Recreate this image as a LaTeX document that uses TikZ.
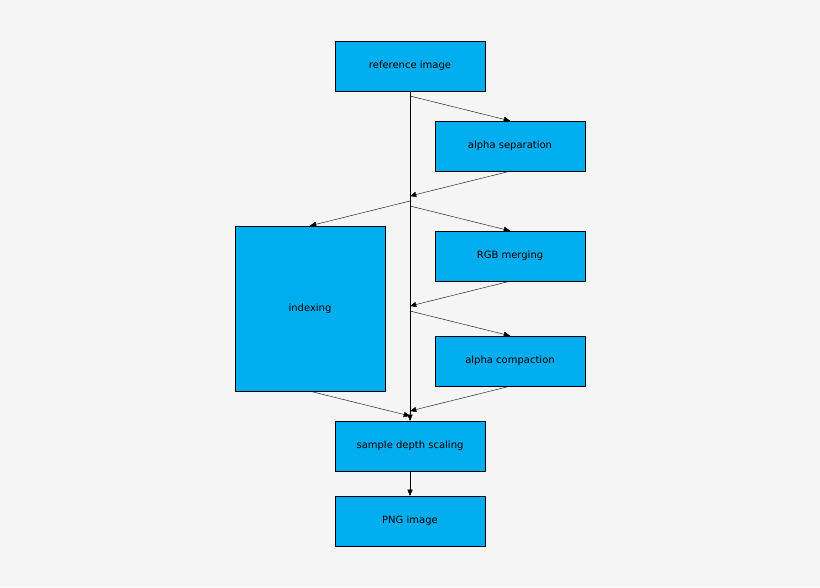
\documentclass[tikz,border=0pt]{standalone}
\usepackage{fontspec}
\setmainfont{DejaVu Sans}
\usetikzlibrary{arrows,positioning,calc}
\definecolor{bgcol}{HTML}{F5F5F5}
\begin{document}
\begin{tikzpicture}[x=1pt,y=-1pt,>=triangle 45, thin,
    stage/.style={rectangle,draw=black,fill=cyan,minimum width=150pt,minimum height=50pt,
      font=\fontsize{10}{12}\selectfont,inner sep=0pt},
    flow/.style={->,shorten >=0pt}]
  \fill[bgcol] (0,0) rectangle (820,587);
  \useasboundingbox (0,0) rectangle (820,587);
  \node[stage] at (410,66) (ref) {reference image};
  \node[stage] at (510,146) (alpha) {alpha separation};
  \node[stage,minimum height=165pt] at (310,308.5) (index) {indexing};
  \node[stage] at (510,256) (rgb) {RGB merging};
  \node[stage] at (510,361) (compact) {alpha compaction};
  \node[stage] at (410,446) (depth) {sample depth scaling};
  \node[stage] at (410,521) (png) {PNG image};
  \coordinate (s1) at (410,96);
  \coordinate (j1) at (410,196);
  \coordinate (s2) at (410,201);
  \coordinate (s3) at (410,206);
  \coordinate (j2) at (410,306);
  \coordinate (s4) at (410,311);
  \coordinate (j3) at (410,411);
  \coordinate (j4) at (410,416);
  \draw[flow] (ref.south) -- (depth.north);
  \draw[flow] (s1) -- (alpha.north);
  \draw[flow] (alpha.south) -- (j1);
  \draw[flow] (s2) -- (index.north);
  \draw[flow] (s3) -- (rgb.north);
  \draw[flow] (rgb.south) -- (j2);
  \draw[flow] (s4) -- (compact.north);
  \draw[flow] (index.south) -- (j4);
  \draw[flow] (compact.south) -- (j3);
  \draw[flow] (depth.south) -- (png.north);
\end{tikzpicture}
\end{document}
